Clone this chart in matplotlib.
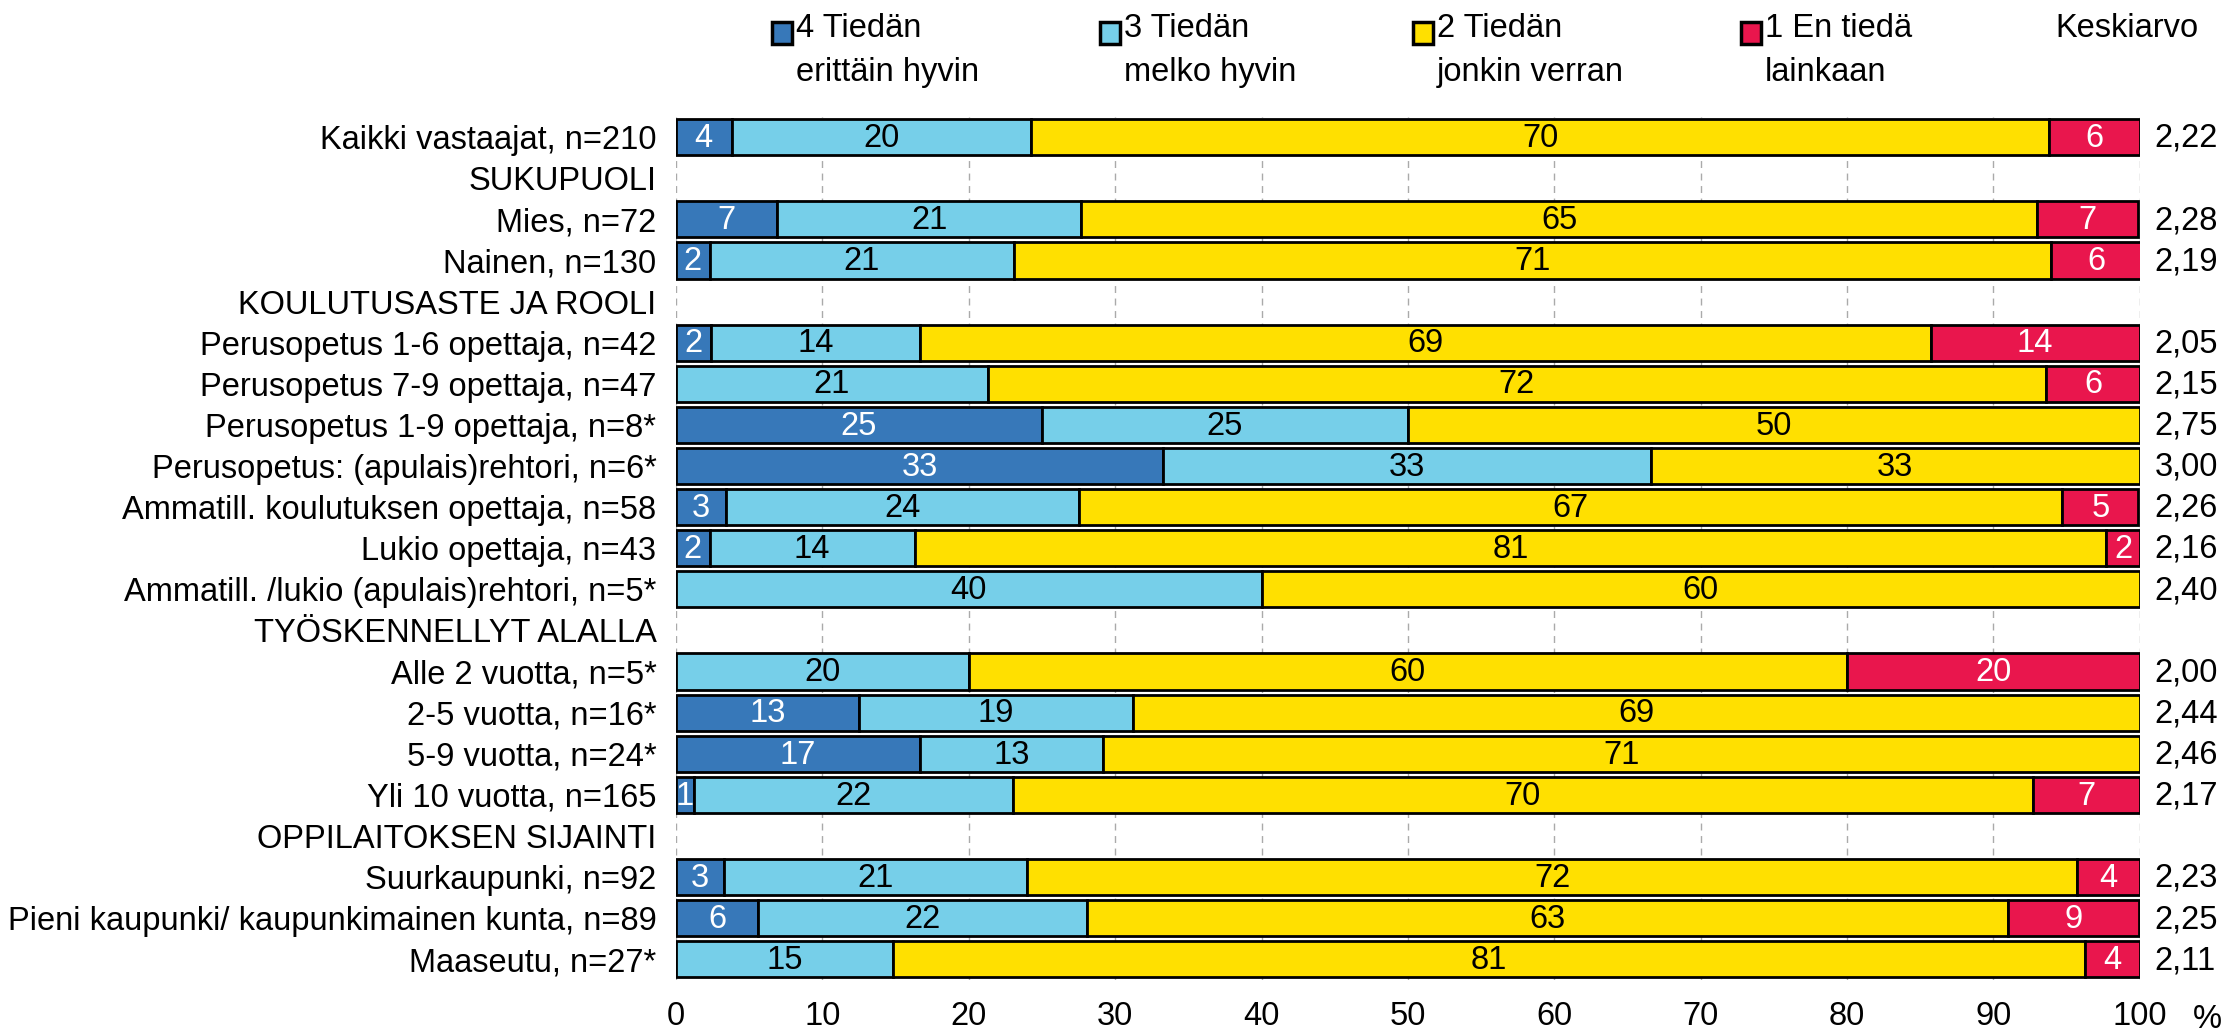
import matplotlib
matplotlib.use("Agg")
import matplotlib.pyplot as plt
from matplotlib.patches import Rectangle
import numpy as np

plt.rcParams['font.family'] = ['Liberation Sans', 'DejaVu Sans']

rivit = ["Kaikki vastaajat, n=210", "SUKUPUOLI", "Mies, n=72", "Nainen, n=130",
         "KOULUTUSASTE JA ROOLI", "Perusopetus 1-6 opettaja, n=42",
         "Perusopetus 7-9 opettaja, n=47", "Perusopetus 1-9 opettaja, n=8*",
         "Perusopetus: (apulais)rehtori, n=6*", "Ammatill. koulutuksen opettaja, n=58",
         "Lukio opettaja, n=43", "Ammatill. /lukio (apulais)rehtori, n=5*",
         "TYÖSKENNELLYT ALALLA", "Alle 2 vuotta, n=5*", "2-5 vuotta, n=16*",
         "5-9 vuotta, n=24*", "Yli 10 vuotta, n=165", "OPPILAITOKSEN SIJAINTI",
         "Suurkaupunki, n=92", "Pieni kaupunki/ kaupunkimainen kunta, n=89",
         "Maaseutu, n=27*"]

# prosentit, otsikkoriveillä nollat
t4 = [3.8, 0, 6.9, 2.3, 0, 2.4, 0, 25, 33.3, 3.4, 2.3, 0, 0, 0, 12.5, 16.7, 1.2, 0, 3.3, 5.6, 0]
t3 = [20.48, 0, 20.8, 20.8, 0, 14.3, 21.3, 25, 33.3, 24.1, 14.0, 40, 0, 20, 18.75, 12.5, 21.8, 0, 20.7, 22.47, 14.8]
t2 = [69.5, 0, 65.3, 70.8, 0, 69.0, 72.3, 50, 33.4, 67.2, 81.4, 60, 0, 60, 68.75, 70.8, 69.7, 0, 71.7, 62.9, 81.48]
t1 = [6.2, 0, 6.9, 6.2, 0, 14.3, 6.4, 0, 0, 5.2, 2.3, 0, 0, 20, 0, 0, 7.3, 0, 4.3, 9.0, 3.7]
keskiarvo = ["2,22", "", "2,28", "2,19", "", "2,05", "2,15", "2,75", "3,00", "2,26", "2,16",
             "2,40", "", "2,00", "2,44", "2,46", "2,17", "", "2,23", "2,25", "2,11"]

sarjat = [t4, t3, t2, t1]
nimet = ["4 Tiedän\nerittäin hyvin", "3 Tiedän\nmelko hyvin",
         "2 Tiedän\njonkin verran", "1 En tiedä\nlainkaan"]
varit = ["#3778b9", "#76cfe9", "#ffe000", "#e9164d"]
tekstivarit = ["white", "black", "black", "white"]

FS = 23.5

fig = plt.figure(figsize=(22.36, 10.31), dpi=100)
ax = fig.add_axes([0.3023, 0.0495, 0.6547, 0.8375])

y = np.arange(len(rivit))
vasen = np.zeros(len(rivit))
for s, vari, tv in zip(sarjat, varit, tekstivarit):
    s = np.array(s, dtype=float)
    for i in range(len(rivit)):
        if s[i] <= 0:
            continue
        ax.barh(y[i], s[i], left=vasen[i], height=0.88, color=vari,
                edgecolor="black", linewidth=2, zorder=3)
        ax.text(vasen[i] + s[i] / 2, y[i] + 0.03, str(int(np.floor(s[i] + 0.5))),
                ha="center", va="center", color=tv, fontsize=FS, zorder=4)
    vasen += s

for i, k in enumerate(keskiarvo):
    ax.text(101.0, y[i] + 0.03, k, ha="left", va="center", fontsize=FS)

ax.set_xlim(0, 100)
ax.set_ylim(len(rivit) - 0.5, -0.5)
ax.set_xticks(np.arange(0, 101, 10))
ax.set_yticks(y)
ax.set_yticklabels(rivit, fontsize=FS)
ax.tick_params(axis="x", length=0, pad=15, labelsize=FS)
ax.tick_params(axis="y", length=0, pad=14)
ax.grid(axis="x", color="#aaaaaa", linestyle=(0, (5, 4)), linewidth=1, zorder=0)
for sp in ax.spines.values():
    sp.set_visible(False)
ax.text(104.6, -0.046, "%", transform=ax.get_xaxis_transform(), ha="center",
        va="center", fontsize=FS)

# selite
W, H = 2236, 1031
selite_x = [772, 1100, 1413, 1741]
for sx, nimi, vari in zip(selite_x, nimet, varit):
    fig.add_artist(Rectangle((sx / W, 1 - 44 / H), 20 / W, 22 / H, transform=fig.transFigure,
                             facecolor=vari, edgecolor="black", linewidth=2.5))
    fig.text((sx + 24) / W, 1 - 13 / H, nimi, ha="left", va="top", fontsize=FS,
             linespacing=1.55)
fig.text(2055 / W, 1 - 13 / H, "Keskiarvo", ha="left", va="top", fontsize=FS)

fig.savefig("out.png", dpi=100)
